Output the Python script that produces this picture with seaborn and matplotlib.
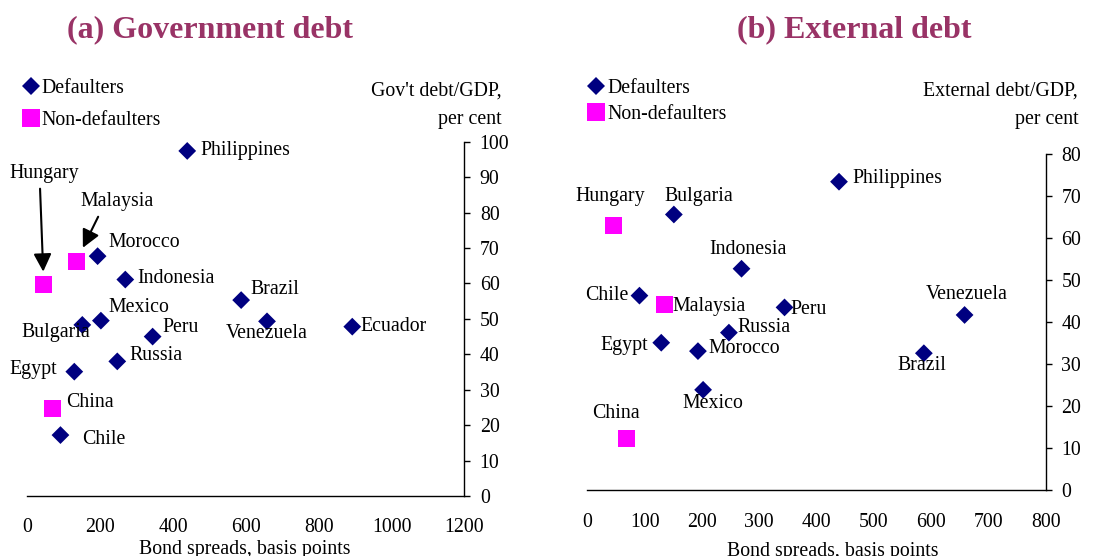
import matplotlib
matplotlib.use("Agg")
import matplotlib.pyplot as plt
import numpy as np
import pandas as pd
import seaborn as sns

# data
countries = ["Philippines", "Hungary", "Malaysia", "Morocco", "Indonesia", "Brazil",
             "Mexico", "Bulgaria", "Venezuela", "Ecuador", "Peru", "Russia",
             "Egypt", "China", "Chile"]
groups = ["Defaulters", "Non-defaulters", "Non-defaulters", "Defaulters", "Defaulters",
          "Defaulters", "Defaulters", "Defaulters", "Defaulters", "Defaulters",
          "Defaulters", "Defaulters", "Defaulters", "Non-defaulters", "Defaulters"]
spreads = [439, 45, 134, 193, 269, 587, 202, 151, 658, 892, 344, 247, 129, 68, 91]
gov_debt = [97.4, 59.8, 66.2, 67.7, 61.1, 55.3, 49.5, 48.3, 49.3, 47.8, 45.0, 38.0,
            35.1, 24.8, 17.2]
ext_debt = [73.4, 63.0, 44.1, 33.1, 52.7, 32.6, 23.9, 65.6, 41.7, np.nan, 43.5, 37.5,
            35.1, 12.3, 46.3]

df = pd.DataFrame({"country": countries, "group": groups, "spread": spreads,
                   "gov": gov_debt, "ext": ext_debt})

sns.set_theme(style="white")
plt.rcParams["font.family"] = ["Liberation Serif", "DejaVu Serif"]
plt.rcParams["text.color"] = "black"
plt.rcParams["axes.labelcolor"] = "black"

NAVY = "#000080"
MAGENTA = "#FF00FF"
TITLE_C = "#993366"
FS = 14.3

# label offsets in pixels: (dx, dy, ha)
gov_offsets = {
    "Philippines": (13, 0, "left"), "Hungary": (1, 111, "center"),
    "Malaysia": (41, 60, "center"), "Morocco": (11, 14, "left"),
    "Indonesia": (12, 1, "left"), "Brazil": (9, 11, "left"),
    "Mexico": (8, 13, "left"), "Bulgaria": (8, -8, "right"),
    "Venezuela": (0, -12, "center"), "Ecuador": (8, 0, "left"),
    "Peru": (10, 9, "left"), "Russia": (12, 6, "left"),
    "Egypt": (-17, 2, "right"), "China": (14, 6, "left"),
    "Chile": (22, -4, "left"),
}
ext_offsets = {
    "Philippines": (13, 3, "left"), "Hungary": (-3, 29, "center"),
    "Bulgaria": (-9, 18, "left"), "Indonesia": (6, 19, "center"),
    "Chile": (-11, 0, "right"), "Malaysia": (8, -2, "left"),
    "Peru": (6, -2, "left"), "Venezuela": (2, 20, "center"),
    "Russia": (9, 5, "left"), "Egypt": (-13, -3, "right"),
    "Morocco": (10, 3, "left"), "Brazil": (-2, -12, "center"),
    "Mexico": (10, -14, "center"), "China": (-10, 25, "center"),
}

fig = plt.figure(figsize=(11.11, 5.56), dpi=100)
ax1 = fig.add_axes([0.02457, 0.1079, 0.3935, 0.6372])
ax2 = fig.add_axes([0.5286, 0.1182, 0.4129, 0.6049])


def draw_panel(ax, ycol, xmax, ymax, xstep, ystep, offsets, arrows=()):
    sns.scatterplot(data=df.dropna(subset=[ycol]), x="spread", y=ycol, hue="group",
                    style="group", size="group",
                    hue_order=["Defaulters", "Non-defaulters"],
                    palette={"Defaulters": NAVY, "Non-defaulters": MAGENTA},
                    markers={"Defaulters": "D", "Non-defaulters": "s"},
                    sizes={"Defaulters": 82, "Non-defaulters": 150},
                    linewidth=0, ax=ax, clip_on=False, zorder=3)
    ax.set_xlim(0, xmax)
    ax.set_ylim(0, ymax)
    ax.set_xticks(np.arange(0, xmax + 1, xstep))
    ax.set_yticks(np.arange(0, ymax + 1, ystep))
    for s in ["top", "left"]:
        ax.spines[s].set_visible(False)
    for s in ["bottom", "right"]:
        ax.spines[s].set_color("black")
        ax.spines[s].set_linewidth(1.0)
    ax.yaxis.tick_right()
    ax.tick_params(axis="x", direction="in", length=4, width=1, pad=16,
                   labelsize=FS, colors="black")
    ax.tick_params(axis="y", direction="out", length=4, width=1, pad=7,
                   labelsize=FS, colors="black", right=True, left=False)
    ax.set_ylabel("")
    ax.set_xlabel("Bond spreads, basis points", fontsize=FS)
    for _, r in df.dropna(subset=[ycol]).iterrows():
        dx, dy, ha = offsets[r["country"]]
        kw = {}
        if r["country"] in arrows:
            kw["arrowprops"] = dict(arrowstyle="-|>,head_length=0.6,head_width=0.3",
                                    mutation_scale=18, color="black", lw=1.5,
                                    shrinkA=2, shrinkB=arrows[r["country"]][1],
                                    relpos=arrows[r["country"]][0])
        ax.annotate(r["country"], xy=(r["spread"], r[ycol]), xytext=(dx, dy),
                    textcoords="offset pixels", ha=ha, va="center",
                    fontsize=FS, annotation_clip=False, **kw)


draw_panel(ax1, "gov", 1200, 100, 200, 10, gov_offsets,
           arrows={"Hungary": ((0.43, 0), 9), "Malaysia": ((0.28, 0), 11)})
draw_panel(ax2, "ext", 800, 80, 100, 10, ext_offsets)

ax1.xaxis.set_label_coords(0.497, -0.125)
ax2.xaxis.set_label_coords(0.536, -0.154)

sns.move_legend(ax1, "upper left", bbox_to_anchor=(0.0105, 0.875),
                bbox_transform=fig.transFigure, frameon=False, title=None,
                fontsize=FS, borderpad=0, handletextpad=0.1, handlelength=0.9,
                labelspacing=0.62)
sns.move_legend(ax2, "upper left", bbox_to_anchor=(0.5195, 0.875),
                bbox_transform=fig.transFigure, frameon=False, title=None,
                fontsize=FS, borderpad=0, handletextpad=0.1, handlelength=0.9,
                labelspacing=0.35)

fig.text(0.4515, 0.811, "Gov't debt/GDP,\nper cent", ha="right", va="center",
         fontsize=FS, linespacing=1.65)
fig.text(0.9705, 0.811, "External debt/GDP,\nper cent", ha="right", va="center",
         fontsize=FS, linespacing=1.65)

fig.text(0.1886, 0.946, "(a) Government debt", ha="center", va="center",
         fontsize=23, fontweight="bold", color=TITLE_C)
fig.text(0.7687, 0.946, "(b) External debt", ha="center", va="center",
         fontsize=23, fontweight="bold", color=TITLE_C)

fig.savefig("out.png", dpi=100)
plt.close(fig)
